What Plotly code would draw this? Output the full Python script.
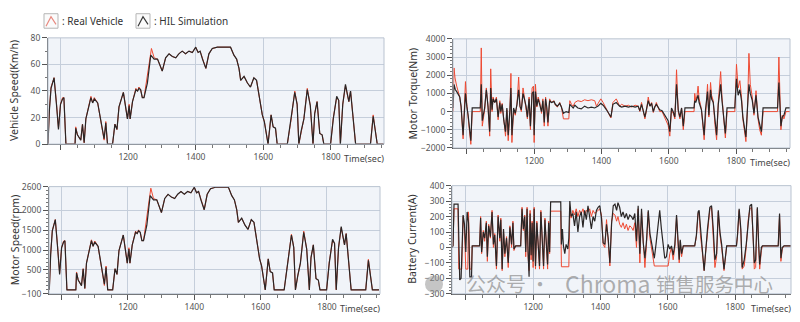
import plotly.graph_objects as go

# ---------------- data ----------------
speed_hil = [(963,0),(967,25),(972,42),(981,50),(988,30),(994,11),(1000,30),(1006,34),(1010,35),(1016,0),
 (1043,0),(1045,12),(1050,7),(1055,5),(1060,3),(1065,15),(1070,1),(1075,19),(1082,27),(1090,35),(1095,31),
 (1100,34),(1110,31),(1119,18),(1124,12),(1129,4),(1134,16),(1139,0),(1154,0),(1161,15),(1167,11),(1173,28),
 (1186,39),(1193,28),(1198,19),(1203,29),(1206,19),(1213,32),(1223,41),(1228,40),(1232,42),(1237,41),(1242,35),
 (1247,35),(1257,46),(1267,67),(1277,64),(1287,64),(1301,55),(1311,65),(1321,68),(1331,66),(1341,65),(1350,68),
 (1360,70),(1370,68),(1380,70),(1390,69),(1400,73),(1407,69),(1413,70),(1420,64),(1430,57),(1439,68),(1449,72),
 (1464,73),(1503,73),(1513,67),(1521,64),(1528,57),(1533,48),(1543,51),(1553,46),(1562,43),(1572,50),(1580,48),
 (1587,38),(1597,22),(1603,17),(1611,4),(1614,0),(1623,22),(1629,13),(1636,12),(1641,0),(1671,0),(1682,18),
 (1693,39),(1700,30),(1705,0),(1712,10),(1720,19),(1730,41),(1739,29),(1747,0),(1752,23),(1759,32),(1767,8),
 (1774,7),(1779,0),(1799,0),(1807,19),(1817,36),(1823,33),(1828,0),(1835,30),(1843,45),(1853,32),(1858,40),
 (1866,18),(1873,0),(1917,0),(1925,21),(1937,0),(1957,0)]

speed_real = [(963,0),(967,26),(972,43),(981,50),(988,31),(994,12),(1000,30),(1006,35),(1010,35),(1016,0),
 (1043,0),(1045,13),(1050,7),(1055,5),(1060,3),(1065,15),(1070,1),(1075,19),(1082,27),(1090,36),(1095,31),
 (1100,35),(1110,31),(1119,18),(1124,12),(1129,3),(1134,17),(1139,0),(1154,0),(1161,15),(1167,11),(1173,28),
 (1186,39),(1193,28),(1198,19),(1203,30),(1206,19),(1213,32),(1223,42),(1228,40),(1232,43),(1237,41),(1242,35),
 (1247,35),(1254,48),(1262,63),(1269,72),(1277,65),(1287,64),(1301,55),(1311,65),(1321,68),(1331,66),(1341,65),
 (1350,68),(1360,70),(1370,68),(1380,70),(1390,69),(1400,73),(1407,69),(1413,70),(1420,64),(1430,57),(1439,68),
 (1449,72),(1464,73),(1503,73),(1513,67),(1521,64),(1528,57),(1533,48),(1543,51),(1553,46),(1562,43),(1572,50),
 (1580,48),(1587,38),(1597,22),(1603,17),(1611,4),(1614,0),(1623,22),(1629,13),(1636,12),(1641,0),(1671,0),
 (1682,18),(1693,40),(1700,30),(1705,0),(1712,10),(1720,19),(1730,42),(1739,29),(1747,0),(1752,23),(1759,32),
 (1767,8),(1774,7),(1779,0),(1799,0),(1807,20),(1817,35),(1823,33),(1828,0),(1835,30),(1843,44),(1853,32),
 (1858,40),(1866,18),(1873,0),(1917,0),(1925,22),(1937,0),(1957,0)]

motor_hil = [(963,0),(967,885),(972,1487),(981,1770),(988,1062),(994,389),(1000,1062),(1006,1204),(1010,1239),
 (1016,0),(1043,0),(1045,425),(1050,248),(1055,177),(1060,106),(1065,531),(1070,35),(1075,673),(1082,956),
 (1090,1239),(1095,1097),(1100,1204),(1110,1097),(1119,637),(1124,425),(1129,142),(1134,566),(1139,0),(1154,0),
 (1161,531),(1167,389),(1173,991),(1186,1381),(1193,991),(1198,673),(1203,1027),(1206,673),(1213,1133),
 (1223,1451),(1228,1416),(1232,1487),(1237,1451),(1242,1239),(1247,1239),(1257,1628),(1267,2372),(1277,2266),
 (1287,2266),(1301,1947),(1311,2301),(1321,2407),(1331,2336),(1341,2301),(1350,2407),(1360,2478),(1370,2407),
 (1380,2478),(1390,2443),(1400,2584),(1407,2443),(1413,2478),(1420,2266),(1430,2018),(1439,2407),(1449,2549),
 (1464,2584),(1503,2584),(1513,2372),(1521,2266),(1528,2018),(1533,1699),(1543,1805),(1553,1628),(1562,1522),
 (1572,1770),(1580,1699),(1587,1345),(1597,779),(1603,602),(1611,142),(1614,0),(1623,779),(1629,460),(1636,425),
 (1641,0),(1671,0),(1682,637),(1693,1381),(1700,1062),(1705,0),(1712,354),(1720,673),(1730,1451),(1739,1027),
 (1747,0),(1752,814),(1759,1133),(1767,283),(1774,248),(1779,0),(1799,0),(1807,673),(1817,1274),(1823,1168),
 (1828,0),(1835,1062),(1843,1593),(1853,1133),(1858,1416),(1866,637),(1873,0),(1917,0),(1925,743),(1937,0),
 (1957,0)]

motor_real = [(963,0),(967,900),(972,1500),(981,1770),(988,1090),(994,420),(1000,1062),(1006,1230),(1010,1239),
 (1016,0),(1043,0),(1045,450),(1050,248),(1055,177),(1060,106),(1065,531),(1070,35),(1075,673),(1082,956),
 (1090,1260),(1095,1097),(1100,1230),(1110,1097),(1119,637),(1124,425),(1129,110),(1134,600),(1139,0),(1154,0),
 (1161,531),(1167,389),(1173,991),(1186,1381),(1193,991),(1198,673),(1203,1060),(1206,673),(1213,1133),
 (1223,1480),(1228,1416),(1232,1510),(1237,1451),(1242,1239),(1247,1239),(1254,1700),(1262,2230),(1269,2560),
 (1277,2300),(1287,2266),(1301,1947),(1311,2301),(1321,2407),(1331,2336),(1341,2301),(1350,2407),(1360,2478),
 (1370,2407),(1380,2478),(1390,2443),(1400,2584),(1407,2443),(1413,2478),(1420,2266),(1430,2018),(1439,2407),
 (1449,2549),(1464,2584),(1503,2584),(1513,2372),(1521,2266),(1528,2018),(1533,1699),(1543,1805),(1553,1628),
 (1562,1522),(1572,1770),(1580,1699),(1587,1345),(1597,779),(1603,602),(1611,142),(1614,0),(1623,779),
 (1629,460),(1636,425),(1641,0),(1671,0),(1682,637),(1693,1400),(1700,1062),(1705,0),(1712,354),(1720,673),
 (1730,1480),(1739,1027),(1747,0),(1752,814),(1759,1133),(1767,283),(1774,248),(1779,0),(1799,0),(1807,700),
 (1817,1240),(1823,1168),(1828,0),(1835,1062),(1843,1560),(1853,1133),(1858,1416),(1866,637),(1873,0),
 (1917,0),(1925,770),(1937,0),(1957,0)]

torque_real = [(959,0),(962,2400),(965,1850),(970,1400),(979,800),(983,250),(989,-1500),(996,1650),(1000,400),
 (1004,-300),(1012,-1800),(1016,0),(1040,0),(1043,3500),(1046,-800),(1053,100),(1058,1300),(1063,250),
 (1068,-1350),(1071,2350),(1075,0),(1078,800),(1083,500),(1088,800),(1093,-450),(1098,600),(1101,-100),
 (1105,450),(1110,-650),(1115,-1350),(1119,100),(1123,-1600),(1128,0),(1131,2100),(1134,-1700),(1139,100),
 (1144,-200),(1149,400),(1154,1900),(1158,250),(1162,0),(1167,1300),(1171,800),(1176,250),(1180,-400),
 (1185,800),(1189,-1000),(1194,1300),(1198,1400),(1200,-1700),(1204,1500),(1208,250),(1212,800),(1217,500),
 (1222,-100),(1226,700),(1230,-800),(1234,800),(1238,100),(1241,-800),(1246,700),(1251,500),(1259,600),
 (1263,350),(1269,250),(1276,500),(1281,250),(1287,-400),(1303,-400),(1306,600),(1311,400),(1316,300),
 (1321,500),(1330,600),(1340,550),(1350,650),(1360,600),(1370,650),(1380,600),(1385,300),(1390,450),
 (1398,700),(1405,500),(1415,100),(1428,-350),(1434,500),(1444,700),(1454,300),(1460,400),(1470,300),
 (1480,350),(1490,250),(1500,350),(1509,300),(1514,0),(1519,500),(1524,-50),(1529,-400),(1534,100),
 (1539,800),(1544,300),(1549,500),(1554,-50),(1558,250),(1563,500),(1568,250),(1573,0),(1580,0),(1588,-300),
 (1598,-750),(1603,-1350),(1608,100),(1613,-100),(1618,-400),(1623,2300),(1628,0),(1633,-400),(1638,200),
 (1643,-1000),(1648,0),(1675,0),(1677,1000),(1680,600),(1684,900),(1687,1400),(1690,700),(1694,400),
 (1697,100),(1705,-1550),(1709,0),(1715,1500),(1719,-300),(1724,1600),(1727,900),(1732,600),(1737,-700),
 (1742,-1550),(1747,500),(1754,2200),(1758,800),(1764,-600),(1768,-1450),(1773,0),(1796,0),(1801,2600),
 (1806,1300),(1811,1700),(1816,800),(1820,-400),(1829,-1650),(1834,300),(1838,3200),(1842,1500),(1848,800),
 (1853,-200),(1859,1150),(1865,-400),(1870,-1000),(1875,-1300),(1880,0),(1923,0),(1927,3000),(1930,1000),
 (1933,-1000),(1937,-200),(1942,-400),(1948,0),(1960,0)]

torque_hil = [(959,200),(962,1500),(966,1200),(970,1100),(979,800),(983,300),(989,-1300),(996,1000),(1000,300),
 (1004,-200),(1012,-1600),(1016,200),(1040,200),(1043,1500),(1046,-500),(1053,200),(1058,1200),(1063,300),
 (1068,-1100),(1071,1300),(1075,100),(1078,700),(1083,500),(1088,700),(1093,-300),(1098,500),(1101,0),
 (1105,400),(1110,-500),(1115,-1100),(1119,200),(1123,-1300),(1128,100),(1131,1300),(1134,-1300),(1139,200),
 (1144,-100),(1149,400),(1154,1200),(1158,300),(1162,100),(1167,1000),(1171,700),(1176,300),(1180,-300),
 (1185,700),(1189,-800),(1194,1000),(1198,1100),(1200,-1300),(1204,1100),(1208,300),(1212,700),(1217,400),
 (1222,0),(1226,600),(1230,-600),(1234,700),(1238,200),(1241,-600),(1246,600),(1251,500),(1259,550),
 (1263,400),(1269,300),(1276,450),(1281,250),(1287,-100),(1295,0),(1303,-50),(1306,400),(1311,300),
 (1316,200),(1321,350),(1330,200),(1340,150),(1350,300),(1360,200),(1370,250),(1380,200),(1390,300),
 (1398,450),(1405,350),(1415,100),(1428,-300),(1434,400),(1444,500),(1454,300),(1460,250),(1470,300),
 (1480,250),(1490,300),(1500,250),(1509,300),(1514,50),(1519,400),(1524,0),(1529,-300),(1534,150),
 (1539,600),(1544,300),(1549,450),(1554,0),(1558,250),(1563,400),(1568,250),(1573,100),(1580,50),
 (1588,-200),(1598,-500),(1603,-1100),(1608,200),(1613,0),(1618,-300),(1623,1500),(1628,100),(1633,-300),
 (1638,200),(1643,-800),(1648,200),(1675,200),(1677,600),(1680,500),(1684,700),(1687,900),(1690,500),
 (1694,300),(1697,100),(1705,-1300),(1709,100),(1715,1100),(1719,-200),(1724,1200),(1727,700),(1732,500),
 (1737,-500),(1742,-1300),(1747,400),(1754,1500),(1758,600),(1764,-400),(1768,-1200),(1773,200),(1796,200),
 (1801,1800),(1806,900),(1811,1200),(1816,600),(1820,-300),(1829,-1400),(1834,300),(1838,1500),(1842,1000),
 (1848,600),(1853,-100),(1859,900),(1865,-300),(1870,-800),(1875,-1100),(1880,200),(1923,200),(1927,1600),
 (1930,500),(1933,-800),(1937,-300),(1942,-200),(1948,200),(1960,200)]

current_hil = [(959,0),(962,10),(965,280),(977,280),(982,-210),(986,-200),(992,210),(996,150),(1000,-30),
 (1004,230),(1008,160),(1012,-190),(1017,-190),(1019,10),(1041,10),(1044,190),(1047,-30),(1052,100),(1056,60),
 (1061,160),(1064,-60),(1068,140),(1073,70),(1078,230),(1082,20),(1086,80),(1091,-120),(1096,200),(1101,60),
 (1104,180),(1108,-140),(1112,120),(1116,-40),(1121,60),(1126,-100),(1131,130),(1136,20),(1140,160),
 (1143,-10),(1148,10),(1163,10),(1167,250),(1171,120),(1175,200),(1178,-30),(1182,250),(1185,-30),
 (1188,-190),(1191,220),(1194,-50),(1197,160),(1200,-90),(1203,250),(1207,-120),(1211,160),(1215,20),
 (1219,-120),(1223,230),(1227,60),(1231,-120),(1235,180),(1239,20),(1243,-110),(1246,160),(1249,-30),
 (1252,295),(1282,295),(1284,20),(1287,120),(1290,10),(1294,-40),(1298,20),(1303,-10),(1306,60),(1309,300),
 (1313,200),(1318,220),(1323,140),(1328,230),(1333,100),(1338,200),(1343,230),(1348,130),(1353,240),
 (1358,180),(1363,270),(1368,200),(1373,120),(1378,200),(1383,170),(1388,240),(1393,260),(1398,270),
 (1403,190),(1408,30),(1413,20),(1418,150),(1423,60),(1428,-100),(1433,150),(1438,270),(1443,280),
 (1448,240),(1452,290),(1457,260),(1462,200),(1467,230),(1472,190),(1477,220),(1482,180),(1487,210),
 (1492,200),(1497,180),(1502,220),(1507,40),(1512,270),(1517,-40),(1522,250),(1527,30),(1532,-70),
 (1537,50),(1542,240),(1547,90),(1552,20),(1560,-70),(1565,20),(1571,120),(1576,240),(1581,120),(1586,0),
 (1591,-70),(1596,-60),(1601,20),(1606,-10),(1611,10),(1616,-50),(1621,20),(1626,210),(1631,20),(1634,-80),
 (1637,50),(1641,-40),(1646,10),(1680,10),(1685,80),(1690,230),(1693,240),(1697,100),(1702,0),(1708,-150),
 (1712,-20),(1718,120),(1725,260),(1730,270),(1735,120),(1740,-80),(1745,-40),(1750,240),(1755,100),
 (1760,20),(1767,-140),(1771,-40),(1775,10),(1804,10),(1807,80),(1812,250),(1817,120),(1821,-130),
 (1827,-80),(1833,20),(1839,190),(1844,270),(1849,280),(1854,60),(1857,-100),(1861,-80),(1866,260),
 (1870,20),(1873,-110),(1878,0),(1881,10),(1928,10),(1932,220),(1936,-70),(1940,0),(1945,10),(1966,10)]

current_real = [(959,0),(962,10),(965,250),(977,250),(979,-140),(988,-140),(992,200),(996,120),(1000,-140),
 (1006,-140),(1008,230),(1012,-140),(1017,-140),(1019,10),(1041,10),(1044,200),(1047,-40),(1052,110),
 (1056,40),(1061,170),(1064,-90),(1068,150),(1073,60),(1078,240),(1082,0),(1086,90),(1091,-140),(1096,210),
 (1101,40),(1104,190),(1108,-150),(1112,110),(1116,-60),(1121,70),(1126,-130),(1131,140),(1136,0),(1140,170),
 (1143,-20),(1148,10),(1163,10),(1167,260),(1171,110),(1175,210),(1178,-60),(1182,260),(1185,-60),
 (1188,-150),(1191,240),(1194,-80),(1197,170),(1200,-130),(1203,260),(1207,-140),(1211,170),(1215,0),
 (1219,-140),(1223,240),(1227,40),(1231,-140),(1235,190),(1239,0),(1243,-140),(1246,170),(1249,-40),
 (1252,235),(1282,235),(1284,-125),(1306,-125),(1309,230),(1313,190),(1318,240),(1323,210),(1328,250),
 (1333,200),(1338,240),(1343,220),(1348,250),(1353,210),(1358,240),(1363,230),(1368,250),(1373,200),
 (1378,240),(1383,220),(1388,230),(1393,240),(1398,250),(1403,210),(1408,20),(1413,0),(1418,180),
 (1423,40),(1428,-120),(1433,170),(1438,220),(1443,210),(1448,170),(1452,200),(1457,150),(1462,130),
 (1467,160),(1472,120),(1477,150),(1482,110),(1487,140),(1492,130),(1497,110),(1502,160),(1507,0),
 (1512,250),(1517,-100),(1522,230),(1527,0),(1532,-130),(1537,30),(1542,230),(1547,60),(1552,0),
 (1560,-120),(1601,-120),(1606,-40),(1611,0),(1616,-80),(1621,0),(1626,200),(1631,0),(1634,-100),(1637,40),
 (1641,-60),(1646,10),(1680,10),(1685,70),(1690,220),(1693,230),(1697,80),(1702,-20),(1708,-150),
 (1712,-40),(1718,110),(1725,250),(1730,260),(1735,100),(1740,-130),(1745,-60),(1750,230),(1755,80),
 (1760,0),(1767,-150),(1771,-60),(1775,10),(1804,10),(1807,70),(1812,240),(1817,100),(1821,-140),
 (1827,-120),(1833,0),(1839,180),(1844,250),(1849,260),(1854,40),(1857,-140),(1861,-130),(1866,250),
 (1870,0),(1873,-140),(1878,-20),(1881,10),(1928,10),(1932,210),(1936,-90),(1940,-10),(1945,10),(1966,10)]

x_tick_vals = [1000, 1200, 1400, 1600, 1800]
x_tick_text = ["", "1200", "1400", "1600", "1800"]
speed_ticks = [0, 20, 40, 60, 80]
torque_ticks = [-2000, -1000, 0, 1000, 2000, 3000, 4000]
motor_ticks = [-100, 500, 1000, 1500, 2000, 2600]
current_ticks = [-300, -200, -100, 0, 100, 200, 300, 400]

panel_titles = ["Vehicle Speed(Km/h)", "Motor Torque(Nm)", "Motor Speed(rpm)", "Battery Current(A)"]
legend_names = [": Real Vehicle", ": HIL Simulation"]

# ---------------- layout helpers ----------------
W, H = 800, 322
def fx(px): return px / W
def fy(py): return 1 - py / H

RED = "#ee4a33"
BLACK = "#2a2626"
FONT = "Noto Sans"

panels = [
    (speed_real, speed_hil, [963, 1957], [0, 80], speed_ticks, 10, (48, 33, 384, 143)),
    (torque_real, torque_hil, [959, 1960], [-2000, 4000], torque_ticks, 200, (453, 34, 790, 147)),
    (motor_real, motor_hil, [962, 1960], [-100, 2600], motor_ticks, 100, (49, 187, 380, 298)),
    (current_real, current_hil, [959, 1966], [-300, 400], current_ticks, 20, (452, 186, 791, 298)),
]

fig = go.Figure()
layout = dict(
    width=W, height=H, margin=dict(l=0, r=0, t=0, b=0),
    paper_bgcolor="white", plot_bgcolor="#f1f4f9",
    showlegend=False, font=dict(family=FONT, color="#444"),
)
shapes = []
annotations = []

for i, (real, hil, xr, yr, yt, ydt, box) in enumerate(panels):
    n = "" if i == 0 else str(i + 1)
    l, t, r, b = box
    fig.add_trace(go.Scatter(x=[p[0] for p in real], y=[p[1] for p in real], mode="lines",
                             line=dict(color=RED, width=1.0), xaxis="x" + n, yaxis="y" + n,
                             name="Real Vehicle"))
    fig.add_trace(go.Scatter(x=[p[0] for p in hil], y=[p[1] for p in hil], mode="lines",
                             line=dict(color=BLACK, width=1.2), xaxis="x" + n, yaxis="y" + n,
                             name="HIL Simulation"))
    layout["xaxis" + n] = dict(
        domain=[fx(l), fx(r)], range=xr, anchor="y" + n,
        tickmode="array", tickvals=x_tick_vals, ticktext=x_tick_text,
        showgrid=True, gridcolor="#c5cedb", gridwidth=1,
        showline=True, linecolor="#555", linewidth=1,
        ticks="outside", ticklen=5, tickcolor="#555",
        minor=dict(dtick=50, tick0=1000, ticks="outside", ticklen=3, tickcolor="#777", showgrid=False),
        tickfont=dict(size=8.5, color="#555"), zeroline=False, fixedrange=True,
    )
    layout["yaxis" + n] = dict(
        domain=[fy(b), fy(t)], range=yr, anchor="x" + n,
        tickmode="array", tickvals=yt,
        showgrid=True, gridcolor="#c5cedb", gridwidth=1,
        showline=True, linecolor="#555", linewidth=1,
        ticks="outside", ticklen=5, tickcolor="#555",
        minor=dict(dtick=ydt, ticks="outside", ticklen=2.5, tickcolor="#777", showgrid=False),
        tickfont=dict(size=8.5, color="#555"), zeroline=False, fixedrange=True,
    )
    shapes.append(dict(type="rect", xref="paper", yref="paper", x0=fx(l), x1=fx(r), y0=fy(b), y1=fy(t),
                       line=dict(color="#b9c3d0", width=1), layer="above"))
    annotations.append(dict(text="Time(sec)", xref="paper", yref="paper", x=fx(r + 2), y=fy(b + 15),
                            xanchor="right", yanchor="middle", showarrow=False,
                            font=dict(size=9, color="#444", family=FONT)))
    annotations.append(dict(text=panel_titles[i], xref="paper", yref="paper",
                            x=fx(l - 34 if i % 2 == 0 else l - 40), y=fy((t + b) / 2), textangle=-90,
                            xanchor="center", yanchor="middle", showarrow=False,
                            font=dict(size=10.5, color="#333", family=FONT)))

# legend (custom icons + text)
for j, (x0, col) in enumerate([(44, "#e88a80"), (136, "#3a3a3a")]):
    shapes.append(dict(type="rect", xref="paper", yref="paper", x0=fx(x0), x1=fx(x0 + 14),
                       y0=fy(23), y1=fy(8), line=dict(color="#b5b5b5", width=1), fillcolor="#fbfbfb"))
    shapes.append(dict(type="path", xref="paper", yref="paper",
                       path=f"M {fx(x0+2)},{fy(21)} L {fx(x0+7)},{fy(11)} L {fx(x0+12)},{fy(19)}",
                       line=dict(color=col, width=1.2)))
    annotations.append(dict(text=legend_names[j], xref="paper", yref="paper", x=fx(x0 + 16), y=fy(16),
                            xanchor="left", yanchor="middle", showarrow=False,
                            font=dict(size=10, color="#333", family=FONT)))

# watermark
shapes.append(dict(type="circle", xref="paper", yref="paper", x0=fx(425), x1=fx(443), y0=fy(297), y1=fy(279),
                   fillcolor="rgba(150,150,150,0.55)", line=dict(width=0)))
for txt, xc, sz in [("公众号", 496, 20), ("·", 540, 20), ("Chroma", 608, 23), ("销售服务中心", 714, 19.5)]:
    annotations.append(dict(text=txt, xref="paper", yref="paper", x=fx(xc), y=fy(287),
                            xanchor="center", yanchor="middle", showarrow=False,
                            font=dict(size=sz, color="rgba(140,140,140,0.7)", family="Noto Sans CJK SC")))

layout["shapes"] = shapes
layout["annotations"] = annotations
fig.update_layout(**layout)
fig.write_html("out.html")
